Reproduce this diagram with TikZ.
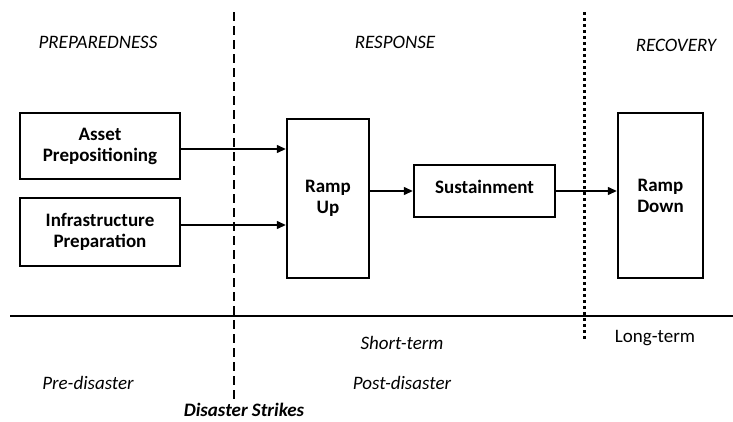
\documentclass[tikz,border=0pt]{standalone}
\usepackage{fontspec}
\setmainfont{Carlito}
\usetikzlibrary{arrows.meta}
\begin{document}
\begin{tikzpicture}[x=1pt,y=-1pt,
  box/.style={draw,line width=2.4pt,align=center,font=\fontsize{19}{21}\selectfont\bfseries,inner sep=0pt},
  arr/.style={line width=1.3pt,-{Triangle[length=9pt,width=8pt]}},
  lbl/.style={font=\fontsize{19}{21}\selectfont\itshape},
  lblr/.style={font=\fontsize{19}{21}\selectfont}]
\useasboundingbox (0,0) rectangle (733,421);
% boxes
\node[box,minimum width=160pt,minimum height=66pt] (a) at (100,146) {Asset\\Prepositioning};
\node[box,minimum width=160pt,minimum height=68pt] (i) at (100,232) {Infrastructure\\Preparation};
\node[box,minimum width=82pt,minimum height=159pt] (r) at (328,198.5) {Ramp\\Up};
\node[box,minimum width=141pt,minimum height=52pt,text depth=8pt] (s) at (484.5,191) {Sustainment};
\node[box,minimum width=85pt,minimum height=165pt] (d) at (660.5,195.5) {Ramp\\Down};
% arrows
\draw[arr] ([yshift=-3pt]a.east) -- ([yshift=-3pt]a.east -| r.west);
\draw[arr] ([yshift=7pt]i.east) -- ([yshift=7pt]i.east -| r.west);
\draw[arr] (r.east |- s.west) -- (s.west);
\draw[arr] (s.east) -- (s.east -| d.west);
% dividers
\coordinate (dt) at (234,12);
\coordinate (db) at (234,400);
\coordinate (ot) at (584,12);
\coordinate (ob) at (584,340);
\coordinate (hl) at (10,316);
\coordinate (hr) at (733,316);
\draw[line width=1.5pt,dash pattern=on 9pt off 5pt] (dt) -- (db);
\draw[line width=3pt,dash pattern=on 3pt off 3pt] (ot) -- (ob);
\draw[line width=2pt] (hl) -- (hr);
% labels
\node[lbl] (p1) at (98,42) {PREPAREDNESS};
\node[lbl] (p2) at (395,42) {RESPONSE};
\node[lbl] (p3) at (676,45) {RECOVERY};
\node[lbl] (t1) at (402,343) {Short-term};
\node[lblr] (t2) at (655,338) {Long-term};
\node[lbl] (t3) at (88,383) {Pre-disaster};
\node[lbl] (t4) at (402,383) {Post-disaster};
\node[lbl,font=\fontsize{19}{21}\selectfont\bfseries\itshape] (t5) at (244,410) {Disaster Strikes};
\end{tikzpicture}
\end{document}
